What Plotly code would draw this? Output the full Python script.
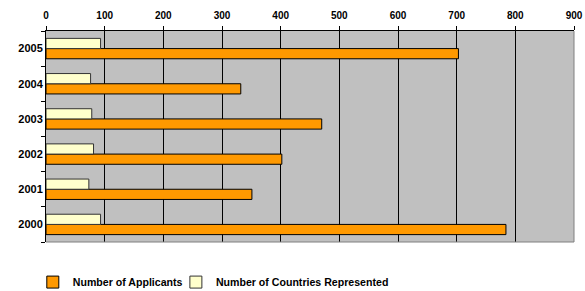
import plotly.graph_objects as go

years = ["2000", "2001", "2002", "2003", "2004", "2005"]
applicants = [784, 351, 402, 470, 332, 703]
countries = [93, 73, 81, 78, 76, 93]
x_ticks = [0, 100, 200, 300, 400, 500, 600, 700, 800, 900]

FONT = "Arial, Liberation Sans, sans-serif"

fig = go.Figure()
fig.add_trace(go.Bar(
    y=years, x=applicants, orientation="h", name="Number of Applicants",
    marker=dict(color="#FF9900", line=dict(color="#000000", width=1)),
    legend="legend",
))
fig.add_trace(go.Bar(
    y=years, x=countries, orientation="h", name="Number of Countries Represented",
    marker=dict(color="#FFFFCC", line=dict(color="#333333", width=1)),
    legend="legend2",
))

legend_common = dict(orientation="h", y=-0.19, xanchor="left", yanchor="middle",
                     font=dict(family=FONT, size=10.6, weight="bold"),
                     itemwidth=30, bgcolor="rgba(0,0,0,0)")

fig.update_layout(
    width=585, height=291,
    margin=dict(l=46, r=11, t=31, b=49, autoexpand=False),
    paper_bgcolor="white", plot_bgcolor="#C0C0C0",
    barmode="group", bargap=0.42, bargroupgap=0,
    font=dict(family=FONT, size=10, color="black", weight="bold"),
    showlegend=True,
    legend=dict(x=-0.025, **legend_common),
    legend2=dict(x=0.246, **legend_common),
    xaxis=dict(side="top", range=[0, 900], tickvals=x_ticks, automargin=False,
               showgrid=True, gridcolor="#000000", gridwidth=1,
               showline=True, linecolor="#000000", linewidth=1,
               ticks="outside", ticklen=4, tickcolor="#000000",
               zeroline=False, ticklabelstandoff=3,
               tickfont=dict(family=FONT, size=10, weight="bold")),
    yaxis=dict(type="category", categoryorder="array", categoryarray=years,
               automargin=False,
               showline=True, linecolor="#000000", linewidth=1,
               ticks="outside", ticklen=4, tickcolor="#000000", tickson="boundaries",
               showgrid=False,
               tickfont=dict(family=FONT, size=11, weight="bold")),
    shapes=[
        dict(type="line", xref="paper", yref="paper", x0=1, x1=1, y0=0, y1=1,
             line=dict(color="#808080", width=1), layer="above"),
        dict(type="line", xref="paper", yref="paper", x0=0, x1=1, y0=0, y1=0,
             line=dict(color="#808080", width=1), layer="above"),
    ],
)

fig.write_html(
    "out.html",
    config={"displayModeBar": False},
    post_script="document.body.style.margin='0';document.body.style.overflow='hidden';",
)
